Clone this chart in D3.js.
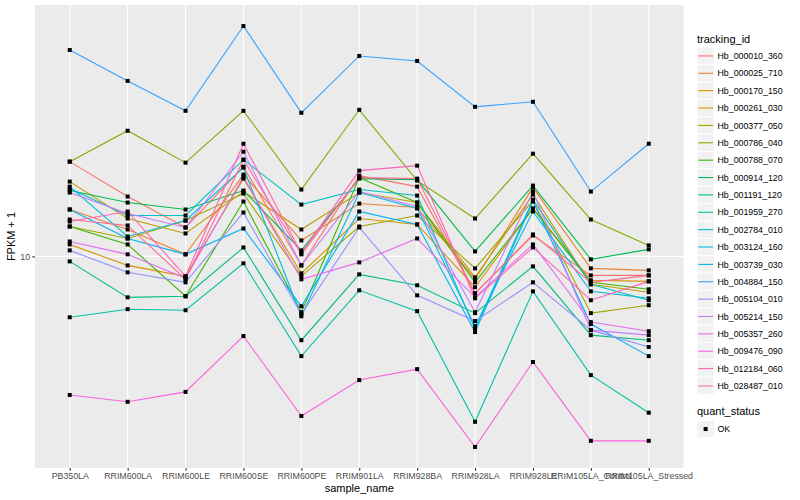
<!DOCTYPE html>
<html><head><meta charset="utf-8">
<script src="https://cdn.jsdelivr.net/npm/d3@7"></script>
<style>body{margin:0;background:#fff}svg{display:block}text{font-family:"Liberation Sans",Arial,Helvetica,sans-serif}</style>
</head><body><svg id="c" width="800" height="500"></svg>
<script>
const samples = ["PB350LA","RRIM600LA","RRIM600LE","RRIM600SE","RRIM600PE","RRIM901LA","RRIM928BA","RRIM928LA","RRIM928LE","RRIM105LA_Control","RRIM105LA_Stressed"];
const trackingIds = ["Hb_000010_360","Hb_000025_710","Hb_000170_150","Hb_000261_030","Hb_000377_050","Hb_000786_040","Hb_000788_070","Hb_000914_120","Hb_001191_120","Hb_001959_270","Hb_002784_010","Hb_003124_160","Hb_003739_030","Hb_004884_150","Hb_005104_010","Hb_005214_150","Hb_005357_260","Hb_009476_090","Hb_012184_060","Hb_028487_010"];
const colors = ["#F8766D","#EA8331","#D89000","#C09B00","#A3A500","#7CAE00","#39B600","#00BB4E","#00BF7D","#00C1A3","#00BFC4","#00BAE0","#00B0F6","#35A2FF","#9590FF","#C77CFF","#E76BF3","#FA62DB","#FF62BC","#FF6C91"];
const s01 = [23.99,17.38,13.06,22.91,9.20,21.09,19.05,7.11,12.13,8.39,8.39];
const s02 = [15.42,12.82,10.19,21.28,11.59,16.29,15.70,8.09,18.88,8.95,8.79];
const s03 = [11.17,9.20,8.32,20.51,8.55,14.19,13.43,7.52,15.56,8.02,7.94];
const s04 = [19.95,14.19,12.36,18.20,12.82,18.03,16.44,8.24,17.70,7.73,7.18];
const s05 = [13.18,11.80,13.93,17.86,8.32,13.18,14.59,8.95,16.75,5.92,6.37];
const s06 = [23.99,31.92,23.77,38.37,18.54,38.73,20.14,14.19,25.82,14.06,11.07];
const s07 = [13.18,11.17,6.92,16.60,5.97,20.70,16.44,7.87,15.56,7.87,7.38];
const s08 = [18.37,16.44,15.42,18.37,10.57,20.51,20.32,10.47,19.23,9.73,10.67];
const s09 = [9.55,6.85,6.92,10.86,4.61,8.47,7.66,5.92,9.12,4.83,4.61];
const s10 = [5.70,6.14,6.08,9.38,3.98,7.31,6.03,2.17,7.24,3.34,2.36];
const s11 = [18.71,14.59,14.59,24.43,16.14,18.54,17.54,5.11,16.90,7.73,6.67];
const s12 = [19.05,12.02,13.93,22.70,5.75,18.03,15.56,5.25,15.14,7.24,6.79];
const s13 = [15.42,11.80,10.19,12.94,6.31,15.14,13.43,4.97,16.60,5.35,3.98];
const s14 = [67.30,50.58,38.37,83.95,37.67,63.68,60.81,39.81,41.69,18.20,28.31];
const s15 = [10.57,8.63,7.87,15.00,5.86,13.06,6.98,5.50,7.87,5.06,4.33];
const s16 = [18.03,14.86,13.06,26.30,9.20,18.20,15.85,5.97,18.20,5.06,4.83];
const s17 = [11.48,10.19,8.17,20.89,8.09,9.46,11.80,6.85,11.17,5.45,5.01];
const s18 = [2.78,2.61,2.86,4.79,2.29,3.19,3.53,1.72,3.77,1.82,1.82];
const s19 = [13.80,15.14,8.32,28.31,10.28,22.08,23.12,6.79,10.86,6.67,7.94];
const s20 = [14.06,13.31,8.09,24.43,10.19,20.70,20.51,7.11,12.25,7.87,8.39];
const seriesValues = [s01,s02,s03,s04,s05,s06,s07,s08,s09,s10,s11,s12,s13,s14,s15,s16,s17,s18,s19,s20];
const yTicks = [10];
const quantStatus = ["OK"];

const svg = d3.select("#c");
const X0 = 35, X1 = 683.5, Y0 = 5, Y1 = 468;
const series = trackingIds.map((id,i)=>({id, color: colors[i], values: seriesValues[i].map((v,j)=>({s: samples[j], v}))}));
const all = seriesValues.flat();
const lmin = Math.log10(d3.min(all)), lmax = Math.log10(d3.max(all));
const pad = (lmax-lmin)*0.05;
const x = d3.scalePoint().domain(samples).range([X0,X1]).padding(0.6);
const y = d3.scaleLog().domain([Math.pow(10,lmin-pad), Math.pow(10,lmax+pad)]).range([Y1,Y0]);

svg.append("rect").attr("x",X0).attr("y",Y0).attr("width",X1-X0).attr("height",Y1-Y0).attr("fill","#EBEBEB");
const g = svg.append("g");
g.selectAll(".hg").data(yTicks).join("line").attr("x1",X0).attr("x2",X1).attr("y1",d=>y(d)).attr("y2",d=>y(d)).attr("stroke","#fff").attr("stroke-width",1.1);
g.selectAll(".vg").data(samples).join("line").attr("x1",d=>x(d)).attr("x2",d=>x(d)).attr("y1",Y0).attr("y2",Y1).attr("stroke","#fff").attr("stroke-width",1.1);

const line = d3.line().x(d=>x(d.s)).y(d=>y(d.v));
svg.append("g").selectAll("path").data(series).join("path").attr("d",d=>line(d.values)).attr("fill","none").attr("stroke",d=>d.color).attr("stroke-width",1.1);
const ps = 4;
svg.append("g").selectAll("g").data(series).join("g").selectAll("rect").data(d=>d.values).join("rect")
  .attr("x",d=>x(d.s)-ps/2).attr("y",d=>y(d.v)-ps/2).attr("width",ps).attr("height",ps).attr("fill","#000");

// axes
const ya = svg.append("g").attr("transform",`translate(${X0},0)`).call(d3.axisLeft(y).tickValues(yTicks).tickFormat(d3.format("d")).tickSize(2.75).tickPadding(2.2));
const xa = svg.append("g").attr("transform",`translate(0,${Y1})`).call(d3.axisBottom(x).tickSize(2.75).tickPadding(2.5));
[ya,xa].forEach(a=>{a.select(".domain").remove();a.selectAll(".tick line").attr("stroke","#333333").attr("stroke-width",1.1);a.selectAll(".tick text").attr("fill","#4D4D4D").style("font-size","8.8px").style("font-family","'Liberation Sans',Arial,sans-serif");});

svg.append("text").attr("x",(X0+X1)/2).attr("y",492).attr("text-anchor","middle").style("font-size","11px").attr("fill","#000").text("sample_name");
svg.append("text").attr("transform",`translate(15,${(Y0+Y1)/2}) rotate(-90)`).attr("text-anchor","middle").style("font-size","11px").attr("fill","#000").text("FPKM + 1");

// legend
const LX = 697, ks = 17.37, k0 = 47.3;
svg.append("text").attr("x",LX).attr("y",43).style("font-size","11px").text("tracking_id");
const lg = svg.append("g").selectAll("g").data(series).join("g").attr("transform",(d,i)=>`translate(${LX},${k0+i*ks})`);
lg.append("rect").attr("width",17.28).attr("height",17.28).attr("fill","#F2F2F2").attr("stroke","#fff").attr("stroke-width",1);
lg.append("line").attr("x1",1.2).attr("x2",16.1).attr("y1",8.64).attr("y2",8.64).attr("stroke",d=>d.color).attr("stroke-width",1.1);
lg.append("text").attr("x",20.5).attr("y",11.8).style("font-size","8.8px").text(d=>d.id);

svg.append("text").attr("x",LX).attr("y",415).style("font-size","11px").text("quant_status");
const qg = svg.append("g").selectAll("g").data(quantStatus).join("g").attr("transform",(d,i)=>`translate(${LX},${420.4+i*ks})`);
qg.append("rect").attr("width",17.28).attr("height",17.28).attr("fill","#F2F2F2").attr("stroke","#fff").attr("stroke-width",1);
qg.append("rect").attr("x",8.64-ps/2).attr("y",8.64-ps/2).attr("width",ps).attr("height",ps).attr("fill","#000");
qg.append("text").attr("x",20.5).attr("y",11.8).style("font-size","8.8px").text(d=>d);
</script></body></html>
